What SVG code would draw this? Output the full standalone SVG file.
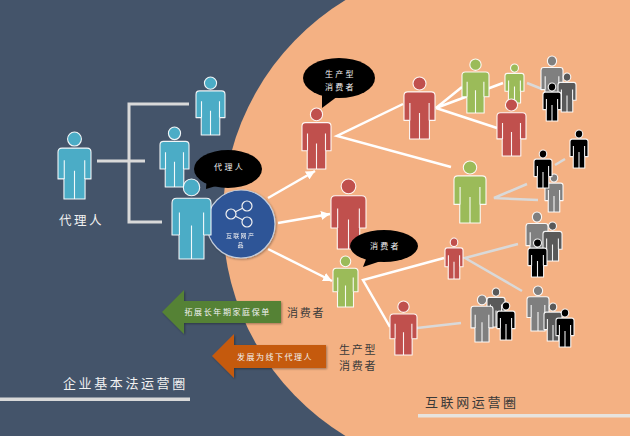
<svg xmlns="http://www.w3.org/2000/svg" width="630" height="436" viewBox="0 0 630 436">
<style>
text{font-family:"Noto Sans CJK SC","Noto Sans",sans-serif}
.shape{vector-effect:non-scaling-stroke;stroke-linejoin:round}
.p{stroke:#fff;stroke-opacity:.92;stroke-width:1.1}
.teal{fill:#4BACC6}.red{fill:#C0504D}.green{fill:#9BBB59}.lg{fill:#7F7F7F}.dg{fill:#595959}.bk{fill:#000}
.wl{stroke:#fff;stroke-width:2.5;fill:none;stroke-linejoin:miter}
.gl{stroke:#D9D9D9;stroke-width:2.5;fill:none;stroke-linejoin:miter}
.br{stroke:#D9D9D9;stroke-width:3;fill:none}
.w{fill:#F2F2F2}.d{fill:#3A3A3A}
</style>
<defs>
<symbol id="person" viewBox="0 0 50 100" preserveAspectRatio="none" overflow="visible">
<circle class="shape" cx="25" cy="10.5" r="10.5"/>
<path class="shape" d="M6 24H44Q50 24 50 30V70H41V100H9V70H0V30Q0 24 6 24Z"/>
<path class="shape" fill="none" d="M9.5 42V70M40.5 42V70M25 58V100"/>
</symbol>
<marker id="ah" markerUnits="userSpaceOnUse" markerWidth="10" markerHeight="9" refX="9" refY="4.5" orient="auto"><path d="M0 0L9 4.5L0 9Z" fill="#fff"/></marker>
<filter id="sh" x="-10%" y="-10%" width="125%" height="125%"><feDropShadow dx="1" dy="1" stdDeviation="1.2" flood-color="#000" flood-opacity=".35"/></filter>
</defs>

<g id="background">
<rect width="630" height="436" fill="#44546A"/>
<path d="M630 0H345.500A255 255 0 0 0 345.500 436H630Z" fill="#F4B183"/>
<rect x="0" y="397.500" width="190" height="3.500" fill="#D9D9D9"/>
<rect x="418" y="414" width="212" height="3.500" fill="#E7E3DE"/>
</g>

<g id="connectors">
<path class="br" d="M97 161H145M189 104H129V222H162"/>
<path class="wl" d="M268 198L315 171" marker-end="url(#ah)"/>
<path class="wl" d="M278 223L330 214" marker-end="url(#ah)"/>
<path class="wl" d="M268 249L332 281" marker-end="url(#ah)"/>
<path class="wl" d="M403 104L337 136L451 167"/>
<path class="wl" d="M462 87L436 108L503 83M436 108L497 128"/>
<path class="wl" d="M444 258L363 280L390 327"/>
<path class="gl" d="M527 83L542 89"/>
<path class="gl" d="M527 184L494 198L538 200"/>
<path class="gl" d="M555 165L565 159"/>
<path class="gl" d="M518 244L465 258L522 291"/>
<path class="gl" d="M417 328L461 323"/>
</g>

<g id="agent-main"><use href="#person" class="p teal" x="58" y="132" width="33" height="67"/><text class="w" x="59" y="225" font-size="12.500" letter-spacing="2.500">代理人</text></g>
<g id="agent-top"><use href="#person" class="p teal" x="196" y="77" width="29" height="58"/></g>
<g id="agent-mid"><use href="#person" class="p teal" x="160" y="127" width="29" height="60"/></g>

<g id="product" filter="url(#sh)">
<circle cx="241" cy="224" r="34" fill="#2F5597" stroke="#C5CEDB" stroke-width="1.200"/>
<g fill="none" stroke="#F2F2F2" stroke-width="1.200"><circle cx="231" cy="214" r="5"/><circle cx="247" cy="206" r="5"/><circle cx="247" cy="222" r="5"/><path d="M235.500 211.800L242.500 208.200M235.500 216.200L242.500 219.800"/></g>
<text class="w" x="226" y="237.500" font-size="6" letter-spacing="1.300">互联网产</text>
<text class="w" x="237.500" y="246.500" font-size="6">品</text>
</g>
<g id="agent-front"><use href="#person" class="p teal" x="172" y="179" width="39" height="80"/></g>

<g id="bubble-agent"><ellipse cx="228" cy="169" rx="34" ry="19" fill="#000"/><path d="M207 175L206 189L226 183Z" fill="#000"/><text class="w" x="214" y="170" font-size="8" letter-spacing="2.400">代理人</text></g>

<g id="red-a"><use href="#person" class="p red" x="302" y="108" width="29" height="61"/></g>
<g id="bubble-prosumer"><ellipse cx="339" cy="78" rx="36" ry="20" fill="#000"/><path d="M322 90L322 108L338 96Z" fill="#000"/><text class="w" x="325" y="76.500" font-size="8" letter-spacing="2.200">生产型</text><text class="w" x="325" y="89.500" font-size="8" letter-spacing="2.200">消费者</text></g>
<g id="red-b"><use href="#person" class="p red" x="404" y="77" width="31" height="62"/></g>
<g id="green-1"><use href="#person" class="p green" x="462" y="59" width="27" height="54"/></g>
<g id="green-2"><use href="#person" class="p green" x="505" y="64" width="19" height="39"/></g>
<g id="red-c"><use href="#person" class="p red" x="497" y="99" width="29" height="57"/></g>
<g id="red-d"><use href="#person" class="p red" x="331" y="179" width="35" height="70"/></g>
<g id="green-3"><use href="#person" class="p green" x="454" y="161" width="32" height="62"/></g>
<g id="green-4"><use href="#person" class="p green" x="333" y="256" width="25" height="51"/></g>
<g id="bubble-consumer"><ellipse cx="384" cy="246" rx="34" ry="16" fill="#000"/><path d="M368 254L363 267L384 260Z" fill="#000"/><text class="w" x="370" y="249" font-size="8" letter-spacing="2.200">消费者</text></g>
<g id="red-e"><use href="#person" class="p red" x="445" y="238" width="18" height="41"/></g>
<g id="red-f"><use href="#person" class="p red" x="390" y="301" width="27" height="54"/></g>

<g id="crowd-1"><use href="#person" class="p lg" x="541" y="56" width="22" height="48"/><use href="#person" class="p dg" x="558" y="73" width="18" height="39"/><use href="#person" class="p bk" x="543" y="83" width="18" height="38"/></g>
<g id="crowd-2"><use href="#person" class="p bk" x="570" y="130" width="18" height="38"/><use href="#person" class="p lg" x="545" y="174" width="18" height="38"/><use href="#person" class="p bk" x="534" y="150" width="18" height="38"/></g>
<g id="crowd-3"><use href="#person" class="p lg" x="526" y="212" width="22" height="48"/><use href="#person" class="p dg" x="543" y="222" width="19" height="39"/><use href="#person" class="p bk" x="528" y="239" width="19" height="38"/></g>
<g id="crowd-4"><use href="#person" class="p dg" x="487" y="288" width="18" height="39"/><use href="#person" class="p lg" x="471" y="295" width="22" height="47"/><use href="#person" class="p bk" x="497" y="302" width="18" height="38"/></g>
<g id="crowd-5"><use href="#person" class="p lg" x="527" y="286" width="22" height="45"/><use href="#person" class="p dg" x="544" y="303" width="18" height="38"/><use href="#person" class="p bk" x="556" y="309" width="18" height="38"/></g>

<g id="arrow-green"><path d="M162 312L184 290V301H281V323H184V334Z" fill="#548235" filter="url(#sh)"/><text class="w" x="184.500" y="315" font-size="8" letter-spacing="1.600">拓展长年期家庭保单</text></g>
<g id="arrow-orange"><path d="M212 356L234 334V345H326V368H234V378Z" fill="#C55A11" filter="url(#sh)"/><text class="w" x="237" y="360" font-size="8" letter-spacing="1.500">发展为线下代理人</text></g>
<g id="labels">
<text class="d" x="287" y="317" font-size="11" letter-spacing="1.800">消费者</text>
<text class="d" x="339" y="354" font-size="11" letter-spacing="1.800">生产型</text>
<text class="d" x="339" y="370" font-size="11" letter-spacing="1.800">消费者</text>
<text class="w" x="63" y="388" font-size="13" letter-spacing="2.600">企业基本法运营圈</text>
<text class="d" x="425" y="407" font-size="13" letter-spacing="2.600">互联网运营圈</text>
</g>
</svg>
